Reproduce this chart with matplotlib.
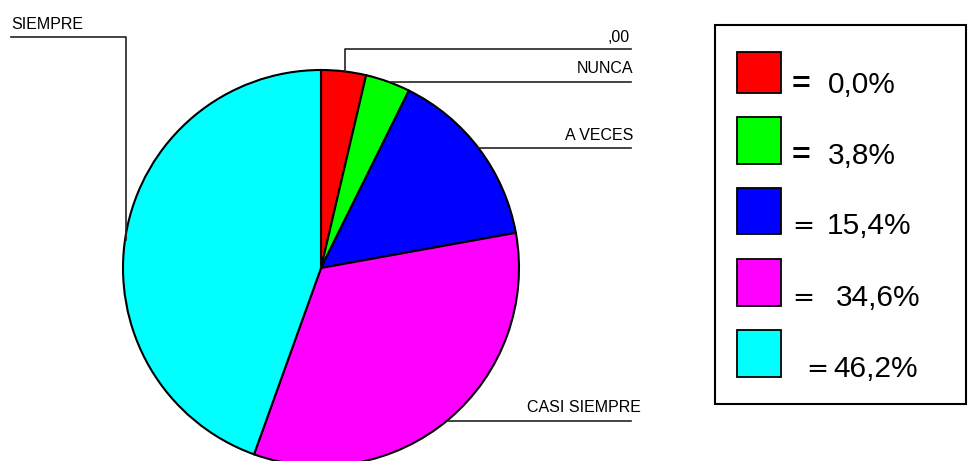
import matplotlib.pyplot as plt
import numpy as np
from matplotlib.patches import Rectangle

plt.rcParams['font.family'] = ['Liberation Sans', 'DejaVu Sans']

# slice sizes as drawn (the red wedge is drawn the same size as the green one)
pie_values = [3.8, 3.8, 15.4, 34.6, 46.2]
colors = ["#ff0000", "#00ff00", "#0000ff", "#ff00ff", "#00ffff"]
legend_values = ["0,0%", "3,8%", "15,4%", "34,6%", "46,2%"]
slice_labels = ["SIEMPRE", ",00", "NUNCA", "A VECES", "CASI SIEMPRE"]

fig = plt.figure(figsize=(9.69, 4.61), dpi=100)
ax = fig.add_axes([0, 0, 1, 1])

cx, cy, r = 321, 268, 198
# y axis is inverted below, so start at 270 and go "counterclock" = clockwise on screen
ax.pie(pie_values, colors=colors, startangle=270, counterclock=True,
       center=(cx, cy), radius=r, frame=True,
       wedgeprops={"edgecolor": "black", "linewidth": 1.5})

ax.set_xlim(0, 969)
ax.set_ylim(461, 0)
ax.set_aspect("equal")
ax.axis("off")

def edge_x(y):
    return cx + np.sqrt(r**2 - (y - cy)**2)

def edge_y(x):
    return cy - np.sqrt(r**2 - (x - cx)**2)

lc = "#222222"
fs = 11.5
# SIEMPRE
ax.text(11, 29, slice_labels[0], fontsize=fs, ha="left", va="baseline")
ax.plot([11, 126, 126], [37, 37, 240], color=lc, lw=1.2)
# ,00
ax.text(630, 42, slice_labels[1], fontsize=fs, ha="right", va="baseline")
ax.plot([345, 345, 631], [edge_y(345), 49, 49], color=lc, lw=1.2)
# NUNCA
ax.text(633, 73, slice_labels[2], fontsize=fs, ha="right", va="baseline")
ax.plot([edge_x(82), 631], [82, 82], color=lc, lw=1.2)
# A VECES
ax.text(633, 140, slice_labels[3], fontsize=fs, ha="right", va="baseline")
ax.plot([edge_x(148), 631], [148, 148], color=lc, lw=1.2)
# CASI SIEMPRE
ax.text(641, 412, slice_labels[4], fontsize=fs, ha="right", va="baseline")
ax.plot([edge_x(421), 631], [421, 421], color=lc, lw=1.2)

# legend box
ax.add_patch(Rectangle((715, 25), 251, 379, fill=False, edgecolor="black", lw=1.5))
sq_top = [52, 117, 188, 259, 330]
sq_h = [41, 47, 46, 47, 47]
eq_x = [792, 792, 792, 792, 806]
num_x = [828, 828, 827, 836, 833]
for i in range(5):
    ax.add_patch(Rectangle((737, sq_top[i]), 44, sq_h[i],
                           facecolor=colors[i], edgecolor="black", lw=1.3))
    base = sq_top[i] + sq_h[i]
    if i < 2:
        ax.text(eq_x[i], base, "=", fontsize=23, fontweight="bold",
                ha="left", va="baseline")
    else:
        ax.text(eq_x[i], base, "=", fontsize=19, family="DejaVu Serif",
                ha="left", va="baseline")
    ax.text(num_x[i], base, legend_values[i], fontsize=21.5, ha="left", va="baseline")

fig.savefig("out.png", dpi=100)
